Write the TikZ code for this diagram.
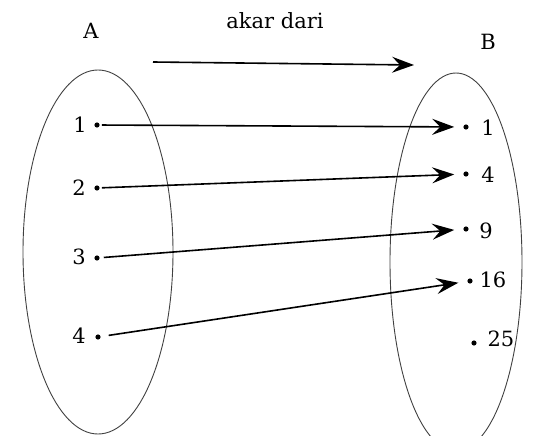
\documentclass[tikz,border=0pt]{standalone}
\usepackage{fontspec}
\setmainfont{DejaVu Serif}
\usetikzlibrary{shapes.geometric,arrows.meta}
\begin{document}
\begin{tikzpicture}[x=1pt,y=-1pt,
  setshape/.style={draw=black!75,line width=0.9pt,ellipse,inner sep=0pt},
  dotnode/.style={circle,fill=black,inner sep=0pt,minimum size=5.2pt},
  lbl/.style={font=\fontsize{21}{25}\selectfont,inner sep=0pt},
  maparrow/.style={line width=1.6pt,-{Stealth[length=22pt,width=16pt,inset=8pt]}}
]
\useasboundingbox (0,0) rectangle (542,436);
% sets
\node[setshape,minimum width=150pt,minimum height=364pt] (setA) at (98,252) {};
\node[setshape,minimum width=132pt,minimum height=378pt] (setB) at (456,262) {};
% titles
\node[lbl] (tA) at (91,31) {A};
\node[lbl] (tB) at (488,42) {B};
\node[lbl] (rel) at (275,21) {akar dari};
\coordinate (r1) at (153,62);
\coordinate (r2) at (414,65);
\draw[maparrow] (r1) -- (r2);
% domain points
\node[dotnode] (a1) at (97,125) {};
\node[dotnode] (a2) at (97,188) {};
\node[dotnode] (a3) at (97,258) {};
\node[dotnode] (a4) at (98,337) {};
\node[lbl] (la1) at (80,125) {1};
\node[lbl] (la2) at (79,188) {2};
\node[lbl] (la3) at (79,257) {3};
\node[lbl] (la4) at (79,336) {4};
% codomain points
\node[dotnode] (b1) at (466,127) {};
\node[dotnode] (b2) at (466,174) {};
\node[dotnode] (b3) at (466,229) {};
\node[dotnode] (b4) at (470,281) {};
\node[dotnode] (b5) at (474,343) {};
\node[lbl] (lb1) at (488,128) {1};
\node[lbl] (lb2) at (488,175) {4};
\node[lbl] (lb3) at (486,231) {9};
\node[lbl] (lb4) at (493,280) {16};
\node[lbl] (lb5) at (501,339) {25};
% mappings
\draw[maparrow,shorten <=2pt,shorten >=9pt] (a1) -- (b1);
\draw[maparrow,shorten <=2pt,shorten >=9pt] (a2) -- (b2);
\draw[maparrow,shorten <=4pt,shorten >=9pt] (a3) -- (b3);
\draw[maparrow,shorten <=8pt,shorten >=9pt] (a4) -- (b4);
\end{tikzpicture}
\end{document}
